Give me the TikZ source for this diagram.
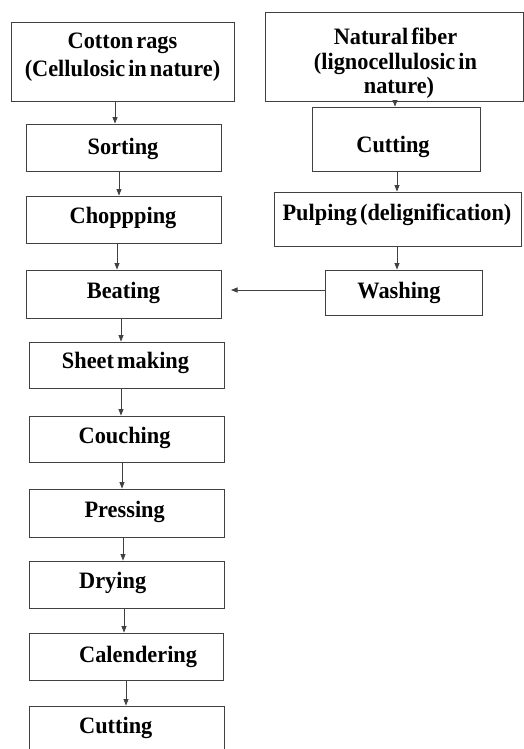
\documentclass[tikz,border=0pt]{standalone}
\usepackage{fontspec}
\setmainfont{Liberation Serif}[FakeStretch=0.95,WordSpace=0.55]
\usetikzlibrary{arrows.meta}
\begin{document}
\begin{tikzpicture}[x=1pt,y=-1pt,
  box/.style={draw=black!75,line width=0.9pt,rectangle,inner sep=0pt,fill=white},
  lbl/.style={anchor=base,inner sep=0pt,font=\fontsize{23.5}{26}\selectfont\bfseries},
  lblw/.style={anchor=base west,inner sep=0pt,font=\fontsize{23.5}{26}\selectfont\bfseries},
  arr/.style={draw=black!75,line width=0.8pt,-{Triangle[length=6.5pt,width=5pt]}}]
\useasboundingbox[fill=white] (0,0) rectangle (524,749);
% left column boxes
\node[box,minimum width=223pt,minimum height=79pt] (cotton) at (122.5,61.5) {};
\node[box,minimum width=195pt,minimum height=47pt] (sorting) at (123.5,147.5) {};
\node[box,minimum width=195pt,minimum height=47pt] (chop) at (123.5,219.5) {};
\node[box,minimum width=195pt,minimum height=48pt] (beating) at (123.5,294) {};
\node[box,minimum width=195pt,minimum height=46pt] (sheet) at (126.5,365) {};
\node[box,minimum width=195pt,minimum height=46pt] (couching) at (126.5,439) {};
\node[box,minimum width=195pt,minimum height=48pt] (pressing) at (126.5,513) {};
\node[box,minimum width=195pt,minimum height=47pt] (drying) at (126.5,584.5) {};
\node[box,minimum width=194pt,minimum height=47pt] (calend) at (126,656.5) {};
\node[box,minimum width=195pt,minimum height=56pt] (cutL) at (126.5,734) {};
% right column boxes
\node[box,minimum width=258pt,minimum height=89pt] (natural) at (394,56.5) {};
\node[box,minimum width=168pt,minimum height=64pt] (cutR) at (396,139) {};
\node[box,minimum width=247pt,minimum height=54pt] (pulping) at (397.5,219) {};
\node[box,minimum width=157pt,minimum height=45pt] (washing) at (403.5,292.5) {};
% labels
\node[lbl] (tcot1) at (122.5,49) {Cotton rags};
\node[lbl] (tcot2) at (122.5,77) {(Cellulosic in nature)};
\node[lbl] (tsort) at (123,154) {Sorting};
\node[lbl] (tchop) at (123,223) {Choppping};
\node[lbl] (tbeat) at (123.5,298) {Beating};
\node[lbl] (tsheet) at (125.5,368) {Sheet making};
\node[lbl] (tcouch) at (124.6,443) {Couching};
\node[lbl] (tpress) at (124.7,517) {Pressing};
\node[lblw] (tdry) at (79,588) {Drying};
\node[lblw] (tcal) at (79,662) {Calendering};
\node[lblw] (tcutL) at (79,733) {Cutting};
\node[lbl] (tnat1) at (395.5,45) {Natural fiber};
\node[lbl] (tnat2) at (395.5,70) {(lignocellulosic in};
\node[lbl] (tnat3) at (399,94) {nature)};
\node[lbl] (tcutR) at (393,153) {Cutting};
\node[lbl] (tpulp) at (397,220) {Pulping (delignification)};
\node[lbl] (twash) at (399,298) {Washing};
% arrows
\draw[arr] (115,0 |- cotton.south) -- (115,0 |- sorting.north);
\draw[arr] (119,0 |- sorting.south) -- (119,0 |- chop.north);
\draw[arr] (117,0 |- chop.south) -- (117,0 |- beating.north);
\draw[arr] (121,0 |- beating.south) -- (121,0 |- sheet.north);
\draw[arr] (121,0 |- sheet.south) -- (121,0 |- couching.north);
\draw[arr] (122,0 |- couching.south) -- (122,0 |- pressing.north);
\draw[arr] (123,0 |- pressing.south) -- (123,0 |- drying.north);
\draw[arr] (124,0 |- drying.south) -- (124,0 |- calend.north);
\draw[arr] (126,0 |- calend.south) -- (126,0 |- cutL.north);
\draw[arr] (395,0 |- natural.south) -- (395,0 |- cutR.north);
\draw[arr] (397,0 |- cutR.south) -- (397,0 |- pulping.north);
\draw[arr] (397,0 |- pulping.south) -- (397,0 |- washing.north);
\coordinate (bin) at (231,290);
\draw[arr] (washing.west |- bin) -- (bin);
\end{tikzpicture}
\end{document}
